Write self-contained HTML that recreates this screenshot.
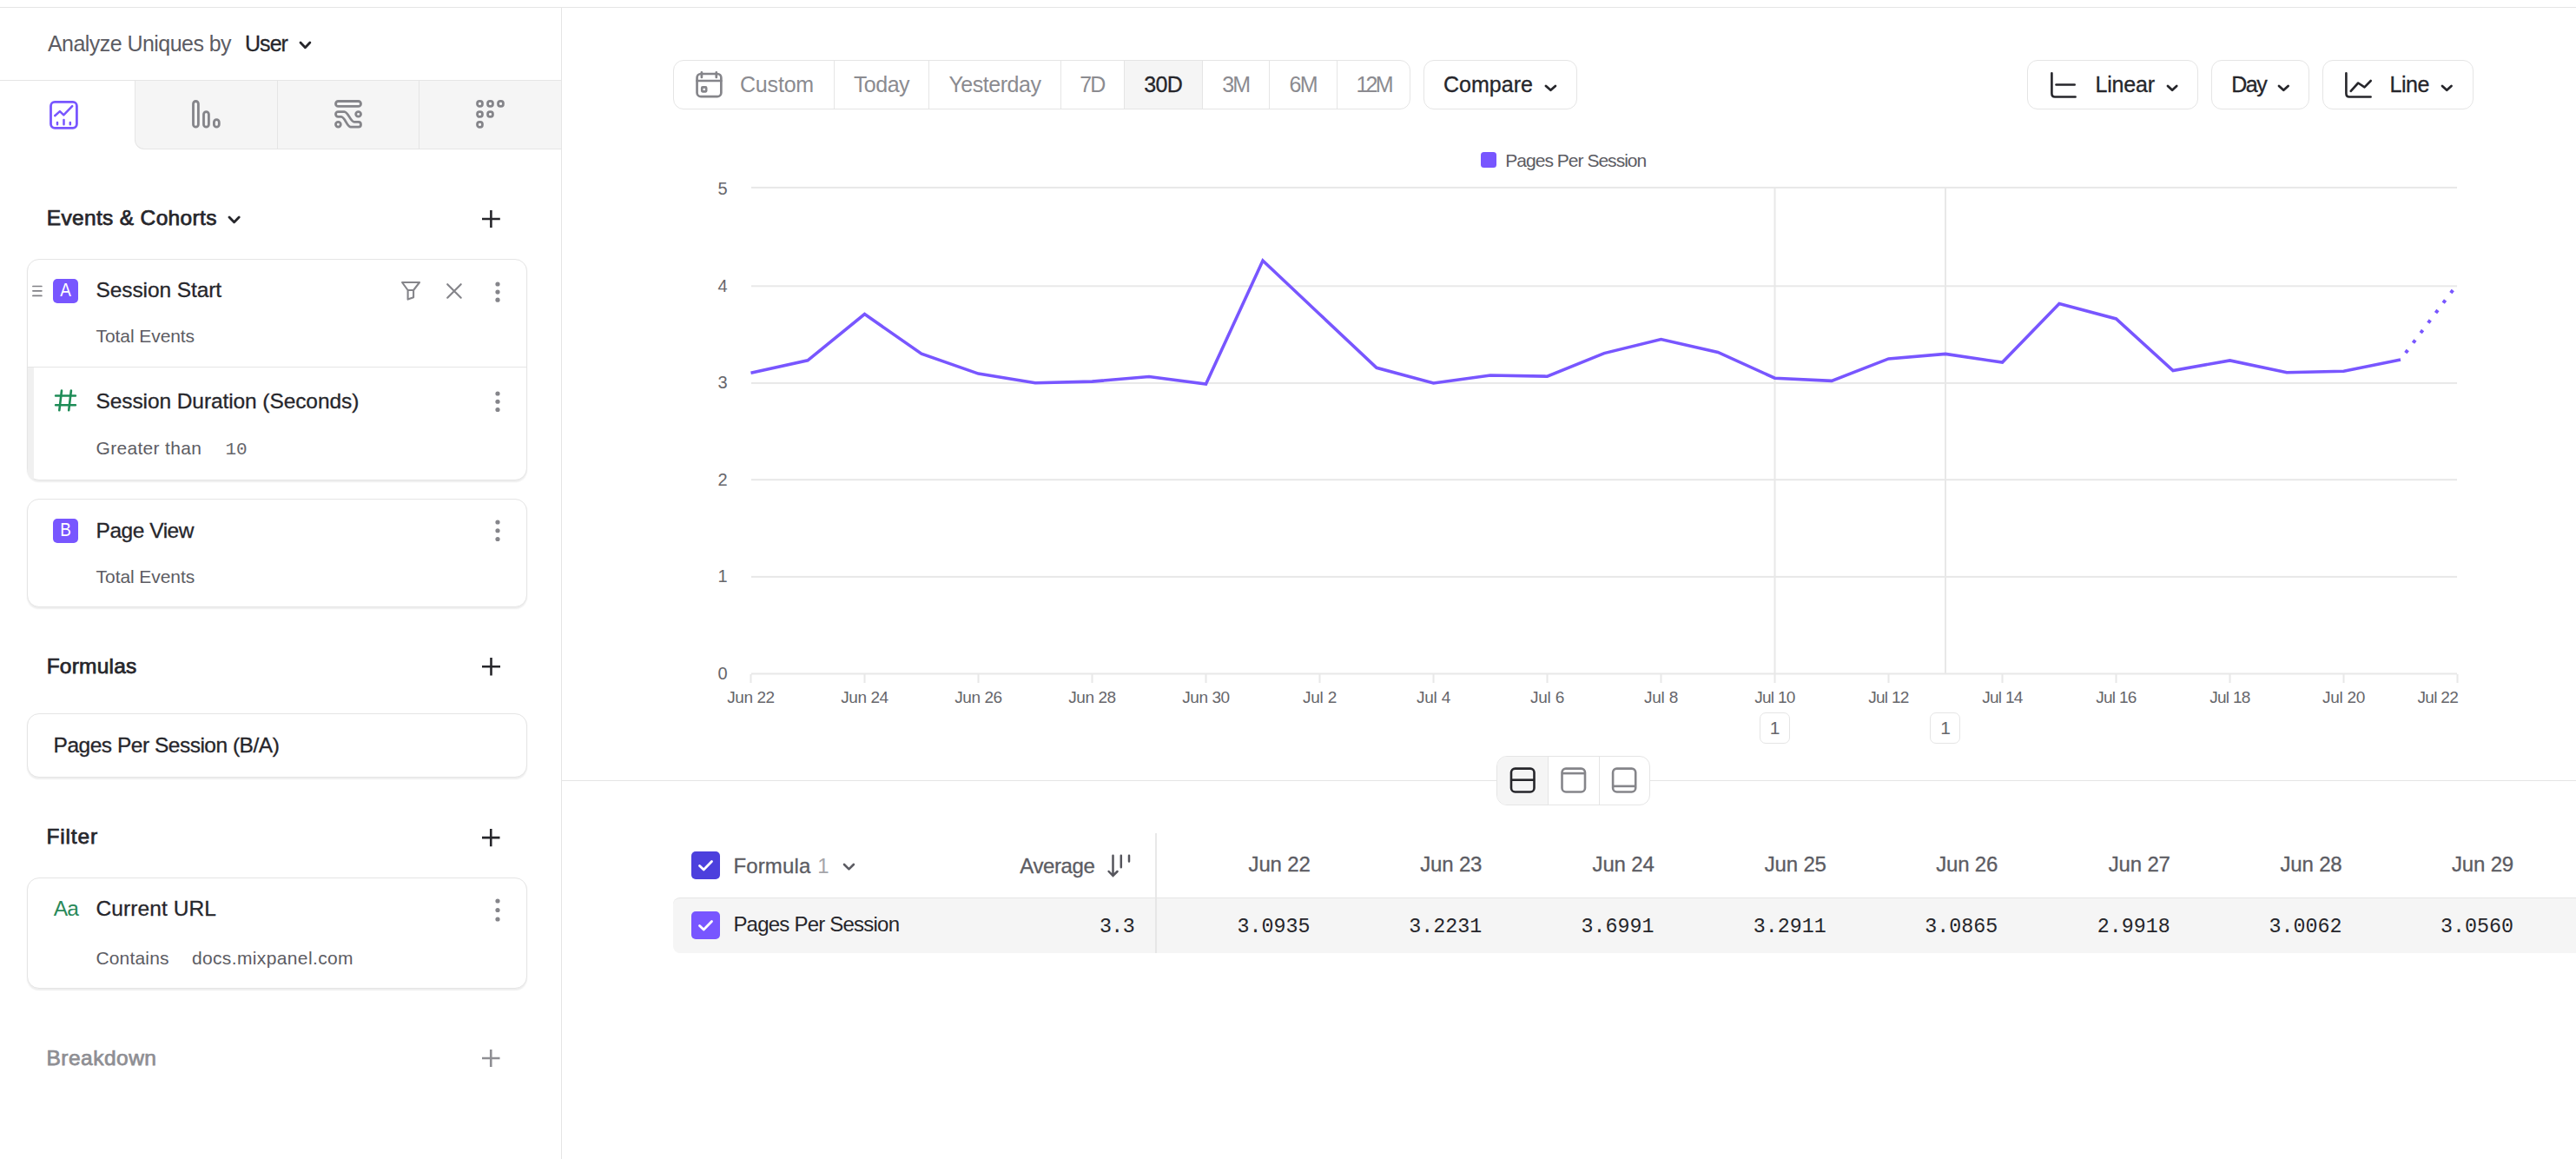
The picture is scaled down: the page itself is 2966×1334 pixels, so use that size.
<!DOCTYPE html>
<html><head><meta charset="utf-8"><title>Mixpanel Insights</title>
<style>
html,body{margin:0;padding:0;background:#fff;}
body{width:2966px;height:1334px;position:relative;overflow:hidden;font-family:"Liberation Sans", sans-serif;}
.t{position:absolute;line-height:1;white-space:nowrap;}
.a{position:absolute;box-sizing:border-box;}
svg.a{overflow:visible;}
</style></head><body>
<div class=a style='left:0px;top:8px;width:2966px;height:1px;background:#e5e5e5;'></div>
<div class=a style='left:646px;top:9px;width:1px;height:1325px;background:#e5e5e5;'></div>
<div class=a style='left:0px;top:92px;width:646px;height:1px;background:#e5e5e5;'></div>
<svg class=a style='left:342.09999999999997px;top:45.3px;' width='18.900000000000034' height='13.700000000000003' viewBox='0 0 18.900000000000034 13.700000000000003'><polyline points='4,4 9.45,9.70 14.90,4' fill='none' stroke='#26262b' stroke-width='2.8' stroke-linecap='round' stroke-linejoin='round'/></svg>
<div class=a style='left:155px;top:92px;width:491px;height:80px;background:#f5f5f5;border-left:1px solid #e5e5e5;border-bottom:1px solid #e5e5e5;border-top:1px solid #e5e5e5;border-bottom-left-radius:11px;'></div>
<div class=a style='left:319px;top:93px;width:1px;height:78px;background:#e5e5e5;'></div>
<div class=a style='left:482px;top:93px;width:1px;height:78px;background:#e5e5e5;'></div>
<svg class=a style='left:55px;top:114px;' width='37' height='37' viewBox='0 0 37 37'><rect x='3.5' y='3.4' width='29.9' height='29.9' rx='4.5' fill='none' stroke='#7856ff' stroke-width='2.8'/><polyline points='8.2,19.2 13.9,14.1 18.3,18.4 28.2,8.2' fill='none' stroke='#7856ff' stroke-width='2.5' stroke-linecap='round' stroke-linejoin='round'/><path d='M11 27V29.2M18.5 24V29.2M25.8 27V29.2' stroke='#7856ff' stroke-width='2.5' stroke-linecap='round'/></svg>
<svg class=a style='left:219px;top:113px;' width='38' height='37' viewBox='0 0 38 37'><rect x='3.5' y='3.5' width='5.9' height='29.6' rx='2.95' fill='none' stroke='#85858a' stroke-width='2.8'/><rect x='15.5' y='15.6' width='5.9' height='17.5' rx='2.95' fill='none' stroke='#85858a' stroke-width='2.8'/><rect x='27.4' y='24.7' width='5.9' height='8.4' rx='2.95' fill='none' stroke='#85858a' stroke-width='2.8'/></svg>
<svg class=a style='left:383px;top:113px;' width='38' height='37' viewBox='0 0 38 37'><rect x='3.5' y='3.5' width='29' height='5.8' rx='2.9' fill='none' stroke='#85858a' stroke-width='2.8'/><rect x='26.7' y='15.6' width='5.8' height='5.6' rx='2.8' fill='none' stroke='#85858a' stroke-width='2.8'/><rect x='3.5' y='27.4' width='5.8' height='5.7' rx='2.8' fill='none' stroke='#85858a' stroke-width='2.8'/><path d='M6.3 15.6H13.3C18 15.6 20.5 27.4 24.9 27.4H29.8C31.4 27.4 32.5 28.7 32.5 30.3C32.5 31.9 31.4 33.2 29.8 33.2H21C16.3 33.2 14.2 21.3 9.8 21.3H6.3C4.7 21.3 3.5 20 3.5 18.45C3.5 16.9 4.7 15.6 6.3 15.6Z' fill='none' stroke='#85858a' stroke-width='2.8' stroke-linejoin='round'/></svg>
<svg class=a style='left:546px;top:112px;' width='38' height='38' viewBox='0 0 38 38'><rect x='3.55' y='4.45' width='5.9' height='5.9' rx='2.6' fill='none' stroke='#85858a' stroke-width='2.8'/><rect x='15.55' y='4.45' width='5.9' height='5.9' rx='2.6' fill='none' stroke='#85858a' stroke-width='2.8'/><rect x='27.55' y='4.45' width='5.9' height='5.9' rx='2.6' fill='none' stroke='#85858a' stroke-width='2.8'/><rect x='3.55' y='16.55' width='5.9' height='5.9' rx='2.6' fill='none' stroke='#85858a' stroke-width='2.8'/><rect x='15.55' y='16.55' width='5.9' height='5.9' rx='2.6' fill='none' stroke='#85858a' stroke-width='2.8'/><rect x='3.55' y='28.45' width='5.9' height='5.9' rx='2.6' fill='none' stroke='#85858a' stroke-width='2.8'/></svg>
<svg class=a style='left:260.4px;top:245.8px;' width='19.200000000000045' height='13.799999999999983' viewBox='0 0 19.200000000000045 13.799999999999983'><polyline points='4,4 9.60,9.80 15.20,4' fill='none' stroke='#26262b' stroke-width='2.8' stroke-linecap='round' stroke-linejoin='round'/></svg>
<svg class=a style='left:553px;top:239.5px;' width='24.799999999999955' height='23.899999999999977' viewBox='0 0 24.799999999999955 23.899999999999977'><path d='M12.40 2V21.90M2 11.95H22.80' stroke='#26262b' stroke-width='2.6' stroke-linecap='butt'/></svg>
<div class=a style='left:31px;top:298px;width:576px;height:254.5px;border:1px solid #e5e5e5;border-radius:14px;background:#fff;box-shadow:0 1.5px 1.5px rgba(0,0,0,0.07);'></div>
<div class=a style='left:32px;top:421.5px;width:574px;height:1px;background:#e5e5e5;'></div>
<div class=a style='left:32px;top:422.5px;width:6.5px;height:128.5px;background:#f0f0f0;border-bottom-left-radius:13px;'></div>
<svg class=a style='left:35px;top:326px;' width='16' height='18' viewBox='0 0 16 18'><path d='M2.9 3.5H12.9M2.9 8.8H12.9M2.9 14.4H12.9' stroke='#808085' stroke-width='1.7' stroke-linecap='round'/></svg>
<div class=a style='left:61px;top:321px;width:29px;height:28px;background:#7856ff;border-radius:5px;'></div>
<div class=t style='left:61px;top:323.2px;width:29px;text-align:center;font-size:22px;color:#fff;transform:scaleX(0.86);'>A</div>
<svg class=a style='left:460px;top:322px;' width='26' height='27' viewBox='0 0 26 27'><path d='M3 3H23L16.1 12V20.2L9.6 22.6V12ZM9.6 12H16.1' fill='none' stroke='#85858a' stroke-width='2.1' stroke-linejoin='round'/></svg>
<svg class=a style='left:512px;top:324px;' width='22' height='22' viewBox='0 0 22 22'><path d='M3.2 3.2L18.7 18.7M18.7 3.2L3.2 18.7' stroke='#85858a' stroke-width='2.2' stroke-linecap='round'/></svg>
<svg class=a style='left:567.6px;top:321.7px;' width='10' height='28.19999999999999' viewBox='0 0 10 28.19999999999999'><circle cx='5' cy='5.00' r='2.6' fill='#85858a'/><circle cx='5' cy='14.10' r='2.6' fill='#85858a'/><circle cx='5' cy='23.20' r='2.6' fill='#85858a'/></svg>
<svg class=a style='left:61px;top:447px;' width='29' height='28' viewBox='0 0 29 28'><path d='M3.1 8.5H25.9M3.1 19.2H25.9M10 2.5L7.3 25.3M20.9 2.5L18.2 25.3' stroke='#1e8c57' stroke-width='2.6' stroke-linecap='round'/></svg>
<svg class=a style='left:567.6px;top:447.5px;' width='10' height='28.5' viewBox='0 0 10 28.5'><circle cx='5' cy='5.00' r='2.6' fill='#85858a'/><circle cx='5' cy='14.25' r='2.6' fill='#85858a'/><circle cx='5' cy='23.50' r='2.6' fill='#85858a'/></svg>
<div class=a style='left:31px;top:574px;width:576px;height:125px;border:1px solid #e5e5e5;border-radius:14px;background:#fff;box-shadow:0 1.5px 1.5px rgba(0,0,0,0.07);'></div>
<div class=a style='left:61px;top:597px;width:29px;height:27.5px;background:#7856ff;border-radius:5px;'></div>
<div class=t style='left:61px;top:599.2px;width:29px;text-align:center;font-size:22px;color:#fff;transform:scaleX(0.86);'>B</div>
<svg class=a style='left:567.6px;top:595.5px;' width='10' height='29.5' viewBox='0 0 10 29.5'><circle cx='5' cy='5.00' r='2.6' fill='#85858a'/><circle cx='5' cy='14.75' r='2.6' fill='#85858a'/><circle cx='5' cy='24.50' r='2.6' fill='#85858a'/></svg>
<svg class=a style='left:553px;top:754.5px;' width='25' height='24.5' viewBox='0 0 25 24.5'><path d='M12.50 2V22.50M2 12.25H23.00' stroke='#26262b' stroke-width='2.6' stroke-linecap='butt'/></svg>
<div class=a style='left:31px;top:821px;width:576px;height:73.5px;border:1px solid #e5e5e5;border-radius:14px;background:#fff;box-shadow:0 1.5px 1.5px rgba(0,0,0,0.07);'></div>
<svg class=a style='left:553px;top:951.5px;' width='24.5' height='24.299999999999955' viewBox='0 0 24.5 24.299999999999955'><path d='M12.25 2V22.30M2 12.15H22.50' stroke='#26262b' stroke-width='2.6' stroke-linecap='butt'/></svg>
<div class=a style='left:31px;top:1010px;width:576px;height:128px;border:1px solid #e5e5e5;border-radius:14px;background:#fff;box-shadow:0 1.5px 1.5px rgba(0,0,0,0.07);'></div>
<svg class=a style='left:567.6px;top:1031.5px;' width='10' height='31.0' viewBox='0 0 10 31.0'><circle cx='5' cy='5.00' r='2.6' fill='#85858a'/><circle cx='5' cy='15.50' r='2.6' fill='#85858a'/><circle cx='5' cy='26.00' r='2.6' fill='#85858a'/></svg>
<svg class=a style='left:553px;top:1206px;' width='24.5' height='24' viewBox='0 0 24.5 24'><path d='M12.25 2V22.00M2 12.00H22.50' stroke='#8e8e93' stroke-width='2.6' stroke-linecap='butt'/></svg>
<div class=a style='left:775px;top:69px;width:849px;height:56.5px;border:1px solid #e5e5e5;border-radius:12px;background:#fff;overflow:hidden;'><div style='position:absolute;left:518.5px;top:0;width:90px;height:100%;background:#f5f5f5'></div></div>
<div class=a style='left:960px;top:70px;width:1px;height:54.5px;background:#e5e5e5;'></div>
<div class=a style='left:1069px;top:70px;width:1px;height:54.5px;background:#e5e5e5;'></div>
<div class=a style='left:1221px;top:70px;width:1px;height:54.5px;background:#e5e5e5;'></div>
<div class=a style='left:1294px;top:70px;width:1px;height:54.5px;background:#e5e5e5;'></div>
<div class=a style='left:1384px;top:70px;width:1px;height:54.5px;background:#e5e5e5;'></div>
<div class=a style='left:1461px;top:70px;width:1px;height:54.5px;background:#e5e5e5;'></div>
<div class=a style='left:1539px;top:70px;width:1px;height:54.5px;background:#e5e5e5;'></div>
<svg class=a style='left:798px;top:79px;' width='37' height='37' viewBox='0 0 37 37'><rect x='4.55' y='6' width='27.8' height='26.2' rx='4.5' fill='none' stroke='#85858a' stroke-width='2.7'/><path d='M9.9 4.4V9.9M26.8 4.4V9.9M4.5 14H32.3' stroke='#85858a' stroke-width='2.7' stroke-linecap='round'/><rect x='10.2' y='21.4' width='5' height='5' rx='0.8' fill='none' stroke='#85858a' stroke-width='2.6'/></svg>
<div class=a style='left:1639px;top:69px;width:177px;height:56.5px;border:1px solid #e5e5e5;border-radius:12px;background:#fff;'></div>
<svg class=a style='left:1776.0px;top:94.9px;' width='18.899999999999864' height='12.699999999999989' viewBox='0 0 18.899999999999864 12.699999999999989'><polyline points='4,4 9.45,8.70 14.90,4' fill='none' stroke='#26262b' stroke-width='2.8' stroke-linecap='round' stroke-linejoin='round'/></svg>
<div class=a style='left:2334px;top:69px;width:197px;height:56.5px;border:1px solid #e5e5e5;border-radius:12px;background:#fff;'></div>
<div class=a style='left:2546px;top:69px;width:113px;height:56.5px;border:1px solid #e5e5e5;border-radius:12px;background:#fff;'></div>
<div class=a style='left:2674px;top:69px;width:174px;height:56.5px;border:1px solid #e5e5e5;border-radius:12px;background:#fff;'></div>
<svg class=a style='left:2358px;top:79px;' width='37' height='37' viewBox='0 0 37 37'><path d='M4.4 5.3V28.5C4.4 31 5.5 32.5 8 32.5H31.6' fill='none' stroke='#26262b' stroke-width='2.6' stroke-linecap='round'/><path d='M9.5 18.5H30.7' stroke='#26262b' stroke-width='2.6' stroke-linecap='round'/></svg>
<svg class=a style='left:2492.4px;top:94.9px;' width='18.199999999999818' height='12.699999999999989' viewBox='0 0 18.199999999999818 12.699999999999989'><polyline points='4,4 9.10,8.70 14.20,4' fill='none' stroke='#26262b' stroke-width='2.8' stroke-linecap='round' stroke-linejoin='round'/></svg>
<svg class=a style='left:2620.0px;top:94.9px;' width='18.59999999999991' height='12.699999999999989' viewBox='0 0 18.59999999999991 12.699999999999989'><polyline points='4,4 9.30,8.70 14.60,4' fill='none' stroke='#26262b' stroke-width='2.8' stroke-linecap='round' stroke-linejoin='round'/></svg>
<svg class=a style='left:2697px;top:79px;' width='37' height='37' viewBox='0 0 37 37'><path d='M4.4 5.3V28.5C4.4 31 5.5 32.5 8 32.5H32.6' fill='none' stroke='#26262b' stroke-width='2.6' stroke-linecap='round'/><polyline points='9.7,25.8 18.2,16.5 25.5,21.3 32.7,14' fill='none' stroke='#26262b' stroke-width='2.6' stroke-linecap='round' stroke-linejoin='round'/></svg>
<svg class=a style='left:2808.1px;top:94.9px;' width='18.5' height='12.699999999999989' viewBox='0 0 18.5 12.699999999999989'><polyline points='4,4 9.25,8.70 14.50,4' fill='none' stroke='#26262b' stroke-width='2.8' stroke-linecap='round' stroke-linejoin='round'/></svg>
<div class=a style='left:1705px;top:175px;width:18px;height:18px;background:#7856ff;border-radius:3.5px;'></div>
<svg class=a style='left:0;top:0' width='2966' height='900' viewBox='0 0 2966 900'><rect x='865' y='214.9' width='1964' height='2' fill='#e8e8e8'/><rect x='865' y='328.3' width='1964' height='2' fill='#e8e8e8'/><rect x='865' y='439.9' width='1964' height='2' fill='#e8e8e8'/><rect x='865' y='551.2' width='1964' height='2' fill='#e8e8e8'/><rect x='865' y='662.9' width='1964' height='2' fill='#e8e8e8'/><rect x='865' y='774.5' width='1964' height='2' fill='#e8e8e8'/><rect x='863.5' y='776' width='2' height='10' fill='#e8e8e8'/><rect x='994.5' y='776' width='2' height='10' fill='#e8e8e8'/><rect x='1125.5' y='776' width='2' height='10' fill='#e8e8e8'/><rect x='1256.5' y='776' width='2' height='10' fill='#e8e8e8'/><rect x='1387.5' y='776' width='2' height='10' fill='#e8e8e8'/><rect x='1518.5' y='776' width='2' height='10' fill='#e8e8e8'/><rect x='1649.5' y='776' width='2' height='10' fill='#e8e8e8'/><rect x='1780.5' y='776' width='2' height='10' fill='#e8e8e8'/><rect x='1911.5' y='776' width='2' height='10' fill='#e8e8e8'/><rect x='2042.5' y='776' width='2' height='10' fill='#e8e8e8'/><rect x='2173.5' y='776' width='2' height='10' fill='#e8e8e8'/><rect x='2304.5' y='776' width='2' height='10' fill='#e8e8e8'/><rect x='2435.5' y='776' width='2' height='10' fill='#e8e8e8'/><rect x='2566.5' y='776' width='2' height='10' fill='#e8e8e8'/><rect x='2697.5' y='776' width='2' height='10' fill='#e8e8e8'/><rect x='2828.5' y='776' width='2' height='10' fill='#e8e8e8'/><rect x='2042.5' y='215' width='2' height='561' fill='#e8e8e8'/><rect x='2239.0' y='215' width='2' height='561' fill='#e8e8e8'/><polyline points='864.5,429.3 930.0,414.8 995.5,361.6 1061.0,407.2 1126.5,430.1 1192.0,440.7 1257.5,439.1 1323.0,433.5 1388.5,442 1454.0,300 1519.5,361.7 1585.0,423.3 1650.5,441 1716.0,432 1781.5,433.2 1847.0,406.6 1912.5,390.5 1978.0,405.4 2043.5,435.2 2109.0,438.4 2174.5,412.9 2240.0,407.4 2305.5,417.1 2371.0,349.5 2436.5,366.9 2502.0,426.5 2567.5,414.9 2633.0,428.8 2698.5,427.2 2764.0,413.9' fill='none' stroke='#7856ff' stroke-width='3.6' stroke-linejoin='miter' stroke-linecap='butt'/><line x1='2764.0' y1='413.9' x2='2829.5' y2='327' stroke='#7856ff' stroke-width='4' stroke-dasharray='4 10.4' stroke-dashoffset='4.7'/></svg>
<div class=a style='left:2026px;top:820px;width:35px;height:36px;border:1px solid #e5e5e5;border-radius:7px;background:#fff;'></div>
<div class=a style='left:2222px;top:820px;width:35px;height:36px;border:1px solid #e5e5e5;border-radius:7px;background:#fff;'></div>
<div class=a style='left:647px;top:898px;width:2319px;height:1px;background:#e5e5e5;'></div>
<div class=a style='left:1723px;top:870px;width:177px;height:56.5px;border:1px solid #e5e5e5;border-radius:12px;background:#fff;overflow:hidden;'><div style='position:absolute;left:0;top:0;width:58px;height:100%;background:#f5f5f5'></div></div>
<div class=a style='left:1782px;top:871px;width:1px;height:54.5px;background:#e5e5e5;'></div>
<div class=a style='left:1840.5px;top:871px;width:1px;height:54.5px;background:#e5e5e5;'></div>
<svg class=a style='left:1735px;top:880px;' width='37' height='37' viewBox='0 0 37 37'><rect x='5' y='4.6' width='26.5' height='26.9' rx='4.5' fill='none' stroke='#26262b' stroke-width='2.6'/><path d='M5 17.7H31.5' stroke='#26262b' stroke-width='2.6'/></svg>
<svg class=a style='left:1794px;top:880px;' width='37' height='37' viewBox='0 0 37 37'><rect x='4.5' y='4.6' width='26.5' height='26.9' rx='4.5' fill='none' stroke='#85858a' stroke-width='2.6'/><path d='M4.5 10.1H31' stroke='#85858a' stroke-width='2.6'/></svg>
<svg class=a style='left:1852px;top:880px;' width='37' height='37' viewBox='0 0 37 37'><rect x='5.1' y='4.6' width='26.1' height='26.9' rx='4.5' fill='none' stroke='#85858a' stroke-width='2.6'/><path d='M5.1 24.9H31.2' stroke='#85858a' stroke-width='2.6'/></svg>
<div class=a style='left:1330px;top:959px;width:2px;height:137.5px;background:#e8e8e8;'></div>
<div class=a style='left:775px;top:1033px;width:2191px;height:63.5px;background:#f5f5f5;border-top:1px solid #e5e5e5;border-top-left-radius:8px;border-bottom-left-radius:8px;'></div>
<div class=a style='left:1330px;top:1033px;width:2px;height:63.5px;background:#e6e6e6;'></div>
<svg class=a style='left:796px;top:980px' width='33' height='32' viewBox='0 0 33 32'><rect x='0' y='0' width='33' height='32' rx='5' fill='#4c3fdd'/><polyline points='9.5,16.5 14.2,21 23.5,11.5' fill='none' stroke='#fff' stroke-width='2.8' stroke-linecap='round' stroke-linejoin='round'/></svg>
<svg class=a style='left:796px;top:1049px' width='33' height='32' viewBox='0 0 33 32'><rect x='0' y='0' width='33' height='32' rx='5' fill='#7856ff'/><polyline points='9.5,16.5 14.2,21 23.5,11.5' fill='none' stroke='#fff' stroke-width='2.8' stroke-linecap='round' stroke-linejoin='round'/></svg>
<svg class=a style='left:967.8px;top:991.3px;' width='18.90000000000009' height='13.400000000000091' viewBox='0 0 18.90000000000009 13.400000000000091'><polyline points='4,4 9.45,9.40 14.90,4' fill='none' stroke='#5c5c63' stroke-width='2.6' stroke-linecap='round' stroke-linejoin='round'/></svg>
<svg class=a style='left:1272px;top:980px;' width='34' height='33' viewBox='0 0 34 33'><path d='M9.5 4.8V27.5M4.6 23L9.5 28L14.5 23M18.8 4.8V18.3M28 4.8V11.5' fill='none' stroke='#55555c' stroke-width='2.5' stroke-linecap='round' stroke-linejoin='miter'/></svg>
<div class=t style='left:55.0px;top:38.2px;font-size:25px;color:#5c5c63;letter-spacing:-0.55px;'>Analyze Uniques by</div>
<div class=t style='left:282.0px;top:38.2px;font-size:25px;color:#26262b;letter-spacing:-0.95px;-webkit-text-stroke:0.3px currentColor;'>User</div>
<div class=t style='left:53.8px;top:238.8px;font-size:24.5px;color:#26262b;letter-spacing:0.33px;-webkit-text-stroke:0.75px currentColor;'>Events &amp; Cohorts</div>
<div class=t style='left:110.5px;top:322.2px;font-size:24.5px;color:#26262b;letter-spacing:-0.09px;-webkit-text-stroke:0.3px currentColor;'>Session Start</div>
<div class=t style='left:110.5px;top:376.1px;font-size:21px;color:#5c5c63;letter-spacing:-0.07px;'>Total Events</div>
<div class=t style='left:110.5px;top:449.9px;font-size:24.5px;color:#26262b;letter-spacing:-0.09px;-webkit-text-stroke:0.3px currentColor;'>Session Duration (Seconds)</div>
<div class=t style='left:110.5px;top:505.1px;font-size:21px;color:#5c5c63;letter-spacing:0.31px;'>Greater than</div>
<div class=t style='left:259.6px;top:507.0px;font-size:21px;color:#66666c;font-family:"Liberation Mono", monospace;letter-spacing:-0.11px;'>10</div>
<div class=t style='left:110.6px;top:599.2px;font-size:24.5px;color:#26262b;letter-spacing:-0.48px;-webkit-text-stroke:0.3px currentColor;'>Page View</div>
<div class=t style='left:110.6px;top:652.8px;font-size:21px;color:#5c5c63;letter-spacing:-0.07px;'>Total Events</div>
<div class=t style='left:53.7px;top:755.2px;font-size:24.5px;color:#26262b;letter-spacing:0.21px;-webkit-text-stroke:0.75px currentColor;'>Formulas</div>
<div class=t style='left:61.6px;top:845.7px;font-size:24.5px;color:#26262b;letter-spacing:-0.49px;-webkit-text-stroke:0.3px currentColor;'>Pages Per Session (B/A)</div>
<div class=t style='left:53.5px;top:951.2px;font-size:24.5px;color:#26262b;letter-spacing:0.84px;-webkit-text-stroke:0.75px currentColor;'>Filter</div>
<div class=t style='left:61.8px;top:1033.8px;font-size:24.5px;color:#2a8a5a;letter-spacing:-0.98px;'>Aa</div>
<div class=t style='left:110.4px;top:1033.8px;font-size:24.5px;color:#26262b;letter-spacing:0.10px;-webkit-text-stroke:0.3px currentColor;'>Current URL</div>
<div class=t style='left:110.4px;top:1091.9px;font-size:21px;color:#5c5c63;letter-spacing:0.18px;'>Contains</div>
<div class=t style='left:220.9px;top:1091.9px;font-size:21px;color:#5c5c63;letter-spacing:0.37px;'>docs.mixpanel.com</div>
<div class=t style='left:53.5px;top:1205.7px;font-size:24.5px;color:#8e8e93;letter-spacing:0.49px;-webkit-text-stroke:0.75px currentColor;'>Breakdown</div>
<div class=t style='left:852.0px;top:85.3px;font-size:25px;color:#8b8b90;letter-spacing:-0.19px;'>Custom</div>
<div class=t style='left:982.9px;top:85.3px;font-size:25px;color:#8b8b90;letter-spacing:-0.52px;'>Today</div>
<div class=t style='left:1092.4px;top:85.3px;font-size:25px;color:#8b8b90;letter-spacing:-0.46px;'>Yesterday</div>
<div class=t style='left:1243.2px;top:85.3px;font-size:25px;color:#8b8b90;letter-spacing:-1.93px;'>7D</div>
<div class=t style='left:1317.3px;top:85.3px;font-size:25px;color:#26262b;letter-spacing:-0.66px;-webkit-text-stroke:0.3px currentColor;'>30D</div>
<div class=t style='left:1407.2px;top:85.3px;font-size:25px;color:#8b8b90;letter-spacing:-1.82px;'>3M</div>
<div class=t style='left:1484.5px;top:85.3px;font-size:25px;color:#8b8b90;letter-spacing:-1.62px;'>6M</div>
<div class=t style='left:1561.5px;top:85.3px;font-size:25px;color:#8b8b90;letter-spacing:-2.81px;'>12M</div>
<div class=t style='left:1661.9px;top:85.3px;font-size:25px;color:#26262b;letter-spacing:0.04px;-webkit-text-stroke:0.3px currentColor;'>Compare</div>
<div class=t style='left:2412.4px;top:85.3px;font-size:25px;color:#26262b;letter-spacing:-0.15px;-webkit-text-stroke:0.3px currentColor;'>Linear</div>
<div class=t style='left:2569.2px;top:85.3px;font-size:25px;color:#26262b;letter-spacing:-1.42px;-webkit-text-stroke:0.3px currentColor;'>Day</div>
<div class=t style='left:2751.5px;top:85.3px;font-size:25px;color:#26262b;letter-spacing:-0.44px;-webkit-text-stroke:0.3px currentColor;'>Line</div>
<div class=t style='left:1733.3px;top:174.2px;font-size:21px;color:#5c5c63;letter-spacing:-0.98px;'>Pages Per Session</div>
<div class=t style='left:826.4px;top:207.0px;font-size:20px;color:#66666b;'>5</div>
<div class=t style='left:826.4px;top:319.0px;font-size:20px;color:#66666b;'>4</div>
<div class=t style='left:826.4px;top:430.0px;font-size:20px;color:#66666b;'>3</div>
<div class=t style='left:826.4px;top:541.8px;font-size:20px;color:#66666b;'>2</div>
<div class=t style='left:826.4px;top:653.0px;font-size:20px;color:#66666b;'>1</div>
<div class=t style='left:826.4px;top:765.4px;font-size:20px;color:#66666b;'>0</div>
<div class=t style='left:837.2px;top:793.1px;font-size:19px;color:#66666b;letter-spacing:-0.41px;'>Jun 22</div>
<div class=t style='left:968.2px;top:793.1px;font-size:19px;color:#66666b;letter-spacing:-0.41px;'>Jun 24</div>
<div class=t style='left:1099.2px;top:793.1px;font-size:19px;color:#66666b;letter-spacing:-0.41px;'>Jun 26</div>
<div class=t style='left:1230.2px;top:793.1px;font-size:19px;color:#66666b;letter-spacing:-0.41px;'>Jun 28</div>
<div class=t style='left:1361.2px;top:793.1px;font-size:19px;color:#66666b;letter-spacing:-0.41px;'>Jun 30</div>
<div class=t style='left:1500.0px;top:793.1px;font-size:19px;color:#66666b;letter-spacing:-0.23px;'>Jul 2</div>
<div class=t style='left:1631.0px;top:793.1px;font-size:19px;color:#66666b;letter-spacing:-0.23px;'>Jul 4</div>
<div class=t style='left:1762.0px;top:793.1px;font-size:19px;color:#66666b;letter-spacing:-0.23px;'>Jul 6</div>
<div class=t style='left:1893.0px;top:793.1px;font-size:19px;color:#66666b;letter-spacing:-0.23px;'>Jul 8</div>
<div class=t style='left:2020.2px;top:793.1px;font-size:19px;color:#66666b;letter-spacing:-0.70px;'>Jul 10</div>
<div class=t style='left:2151.2px;top:793.1px;font-size:19px;color:#66666b;letter-spacing:-0.70px;'>Jul 12</div>
<div class=t style='left:2282.2px;top:793.1px;font-size:19px;color:#66666b;letter-spacing:-0.70px;'>Jul 14</div>
<div class=t style='left:2413.2px;top:793.1px;font-size:19px;color:#66666b;letter-spacing:-0.70px;'>Jul 16</div>
<div class=t style='left:2544.2px;top:793.1px;font-size:19px;color:#66666b;letter-spacing:-0.70px;'>Jul 18</div>
<div class=t style='left:2674.0px;top:793.1px;font-size:19px;color:#66666b;letter-spacing:-0.28px;'>Jul 20</div>
<div class=t style='left:2783.5px;top:793.1px;font-size:19px;color:#66666b;letter-spacing:-0.70px;'>Jul 22</div>
<div class=t style='left:2037.7px;top:827.4px;font-size:21px;color:#66666b;'>1</div>
<div class=t style='left:2234.2px;top:827.4px;font-size:21px;color:#66666b;'>1</div>
<div class=t style='left:844.4px;top:985.2px;font-size:24px;color:#5c5c63;letter-spacing:0.14px;-webkit-text-stroke:0.3px currentColor;'>Formula</div>
<div class=t style='left:941.3px;top:985.2px;font-size:24px;color:#a5a5aa;letter-spacing:-5.36px;'>1</div>
<div class=t style='left:1174.3px;top:985.2px;font-size:24px;color:#5c5c63;letter-spacing:-0.42px;-webkit-text-stroke:0.3px currentColor;'>Average</div>
<div class=t style='left:1437.6px;top:983.4px;font-size:24px;color:#5c5c63;letter-spacing:-0.18px;-webkit-text-stroke:0.3px currentColor;'>Jun 22</div>
<div class=t style='left:1424.6px;top:1055.6px;font-size:23.3px;color:#26262b;font-family:"Liberation Mono", monospace;letter-spacing:0.02px;'>3.0935</div>
<div class=t style='left:1635.3px;top:983.4px;font-size:24px;color:#5c5c63;letter-spacing:-0.18px;-webkit-text-stroke:0.3px currentColor;'>Jun 23</div>
<div class=t style='left:1622.3px;top:1055.6px;font-size:23.3px;color:#26262b;font-family:"Liberation Mono", monospace;letter-spacing:0.02px;'>3.2231</div>
<div class=t style='left:1833.6px;top:983.4px;font-size:24px;color:#5c5c63;letter-spacing:-0.18px;-webkit-text-stroke:0.3px currentColor;'>Jun 24</div>
<div class=t style='left:1820.6px;top:1055.6px;font-size:23.3px;color:#26262b;font-family:"Liberation Mono", monospace;letter-spacing:0.02px;'>3.6991</div>
<div class=t style='left:2031.8px;top:983.4px;font-size:24px;color:#5c5c63;letter-spacing:-0.18px;-webkit-text-stroke:0.3px currentColor;'>Jun 25</div>
<div class=t style='left:2018.8px;top:1055.6px;font-size:23.3px;color:#26262b;font-family:"Liberation Mono", monospace;letter-spacing:0.02px;'>3.2911</div>
<div class=t style='left:2229.2px;top:983.4px;font-size:24px;color:#5c5c63;letter-spacing:-0.18px;-webkit-text-stroke:0.3px currentColor;'>Jun 26</div>
<div class=t style='left:2216.2px;top:1055.6px;font-size:23.3px;color:#26262b;font-family:"Liberation Mono", monospace;letter-spacing:0.02px;'>3.0865</div>
<div class=t style='left:2427.8px;top:983.4px;font-size:24px;color:#5c5c63;letter-spacing:-0.18px;-webkit-text-stroke:0.3px currentColor;'>Jun 27</div>
<div class=t style='left:2414.8px;top:1055.6px;font-size:23.3px;color:#26262b;font-family:"Liberation Mono", monospace;letter-spacing:0.02px;'>2.9918</div>
<div class=t style='left:2625.5px;top:983.4px;font-size:24px;color:#5c5c63;letter-spacing:-0.18px;-webkit-text-stroke:0.3px currentColor;'>Jun 28</div>
<div class=t style='left:2612.5px;top:1055.6px;font-size:23.3px;color:#26262b;font-family:"Liberation Mono", monospace;letter-spacing:0.02px;'>3.0062</div>
<div class=t style='left:2823.0px;top:983.4px;font-size:24px;color:#5c5c63;letter-spacing:-0.18px;-webkit-text-stroke:0.3px currentColor;'>Jun 29</div>
<div class=t style='left:2810.0px;top:1055.6px;font-size:23.3px;color:#26262b;font-family:"Liberation Mono", monospace;letter-spacing:0.02px;'>3.0560</div>
<div class=t style='left:844.4px;top:1052.3px;font-size:24px;color:#26262b;letter-spacing:-0.78px;'>Pages Per Session</div>
<div class=t style='left:1266.0px;top:1055.6px;font-size:23.3px;color:#26262b;font-family:"Liberation Mono", monospace;letter-spacing:-0.65px;'>3.3</div>
</body></html>
